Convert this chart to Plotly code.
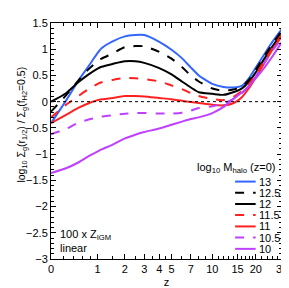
import numpy as np
import plotly.graph_objects as go

# redshift grid
z = [0, 0.25, 0.5, 0.75, 1, 1.12, 1.5, 2, 2.5, 3, 4, 5, 6, 7, 8, 10, 12, 14, 16, 18, 20, 23, 26, 30]

m13   = [-0.41, 0.02, 0.40, 0.68, 0.93, 1.02, 1.15, 1.245, 1.27, 1.27, 1.14, 0.99, 0.83, 0.65, 0.50, 0.34, 0.28, 0.27, 0.30, 0.45, 0.65, 0.92, 1.15, 1.39]
m12_5 = [-0.19, 0.12, 0.40, 0.62, 0.77, 0.82, 0.92, 1.04, 1.06, 1.055, 0.95, 0.82, 0.66, 0.50, 0.385, 0.25, 0.21, 0.23, 0.28, 0.42, 0.61, 0.88, 1.11, 1.36]
m12   = [0.00, 0.16, 0.37, 0.52, 0.63, 0.665, 0.72, 0.77, 0.77, 0.74, 0.64, 0.52, 0.385, 0.27, 0.18, 0.15, 0.13, 0.18, 0.25, 0.38, 0.56, 0.83, 1.06, 1.32]
m11_5 = [-0.30, -0.06, 0.107, 0.24, 0.34, 0.37, 0.415, 0.45, 0.445, 0.43, 0.385, 0.31, 0.24, 0.165, 0.107, 0.05, 0.03, 0.09, 0.20, 0.34, 0.52, 0.79, 1.03, 1.29]
m11   = [-0.41, -0.25, -0.12, -0.03, 0.03, 0.045, 0.07, 0.107, 0.107, 0.10, 0.07, 0.046, 0.017, -0.007, -0.025, -0.06, -0.07, -0.03, 0.08, 0.26, 0.46, 0.75, 1.00, 1.25]
m10_5 = [-0.62, -0.52, -0.40, -0.34, -0.30, -0.285, -0.26, -0.23, -0.22, -0.215, -0.226, -0.226, -0.21, -0.17, -0.12, -0.09, -0.03, 0.05, 0.16, 0.30, 0.48, 0.75, 0.98, 1.20]
m10   = [-1.36, -1.27, -1.16, -1.04, -0.95, -0.91, -0.82, -0.70, -0.63, -0.58, -0.51, -0.44, -0.38, -0.33, -0.30, -0.22, -0.10, 0.05, 0.17, 0.30, 0.45, 0.66, 0.87, 1.14]

series_labels = ["13", "12.5", "12", "11.5", "11", "10.5", "10"]
series_values = [m13, m12_5, m12, m11_5, m11, m10_5, m10]
colors = ["#3366FF", "black", "black", "#FF2020", "#FF2020", "#BF40FF", "#BF40FF"]
dashes = ["solid", "dash", "solid", "dash", "solid", "dash", "solid"]

xtick_z = [0, 1, 2, 3, 4, 5, 7, 10, 15, 20, 30]
xtick_labels = ["0", "1", "2", "3", "4", "5", "7", "10", "15", "20", "30"]
xminor_z = [0.2, 0.4, 0.6, 0.8, 1.5, 2.5, 3.5, 4.5, 6, 8, 9, 11, 12, 13, 14, 16, 17, 18, 19, 22, 24, 26, 28]
ytick_vals = [-3, -2.5, -2, -1.5, -1, -0.5, 0, 0.5, 1, 1.5]
ytick_labels = ["\u22123", "\u22122.5", "\u22122", "\u22121.5", "\u22121", "\u22120.5", "0", "0.5", "1", "1.5"]
yminor_vals = [round(-3 + 0.1 * i, 2) for i in range(46)]

def lx(v):
    return list(np.log10(1 + np.asarray(v, dtype=float)))

FONT = "Liberation Sans"
fig = go.Figure()
for lab, vals, c, d in zip(series_labels, series_values, colors, dashes):
    sm = 0.5 if lab == "13" else 0.7
    fig.add_trace(go.Scatter(x=lx(z), y=vals, mode="lines", name=lab,
                             line=dict(color=c, dash=d, width=2, shape="spline", smoothing=sm),
                             showlegend=False))

# zero reference line
fig.add_shape(type="line", xref="paper", x0=0, x1=1, yref="y", y0=0, y1=0,
              line=dict(color="black", width=1, dash="dot"))

# manual legend
row_y = [0.328, 0.281, 0.233, 0.186, 0.138, 0.091, 0.043]
for lab, c, d, ry in zip(series_labels, colors, dashes, row_y):
    fig.add_shape(type="line", xref="paper", yref="paper", x0=0.797, x1=0.886, y0=ry, y1=ry,
                  line=dict(color=c, dash=d, width=2))
    fig.add_annotation(xref="paper", yref="paper", x=0.892, y=ry, text=lab, showarrow=False,
                       xanchor="left", yanchor="middle", font=dict(size=11, color="black", family=FONT))
fig.add_annotation(xref="paper", yref="paper", x=0.98, y=0.385,
                   text="log<sub>10</sub> M<sub>halo</sub> (z=0)", showarrow=False,
                   xanchor="right", yanchor="middle", font=dict(size=11, color="black", family=FONT))

fig.add_annotation(xref="paper", yref="paper", x=0.03, y=0.10, text="100 x Z<sub>IGM</sub>",
                   showarrow=False, xanchor="left", yanchor="middle", font=dict(size=11, color="black", family=FONT))
fig.add_annotation(xref="paper", yref="paper", x=0.03, y=0.048, text="linear",
                   showarrow=False, xanchor="left", yanchor="middle", font=dict(size=11, color="black", family=FONT))

fig.add_annotation(xref="paper", yref="paper", x=-0.125, y=0.57,
                   text="log<sub>10</sub> \u03a3<sub>g</sub>(r<sub>1/2</sub>) / \u03a3<sub>g</sub>(f<sub>H2</sub>=0.5)",
                   showarrow=False, textangle=-90, xanchor="center", yanchor="middle",
                   font=dict(size=10.5, color="black", family=FONT))

fig.update_xaxes(range=[0, float(np.log10(31))], tickmode="array", tickvals=lx(xtick_z), ticktext=xtick_labels,
                 minor=dict(tickmode="array", tickvals=lx(xminor_z), ticks="inside", ticklen=3, tickcolor="black"),
                 title=dict(text="z", font=dict(size=11, color="black", family=FONT), standoff=4),
                 showline=True, linecolor="black", linewidth=1, mirror="allticks",
                 ticks="inside", ticklen=5, tickcolor="black", showgrid=False, zeroline=False,
                 showticklabels=True, tickfont=dict(size=11, color="black", family=FONT))
fig.update_yaxes(range=[-3, 1.5], tickmode="array", tickvals=ytick_vals, ticktext=ytick_labels,
                 minor=dict(tickmode="array", tickvals=yminor_vals, ticks="inside", ticklen=3, tickcolor="black"),
                 showline=True, linecolor="black", linewidth=1, mirror="allticks",
                 ticks="inside", ticklen=5, tickcolor="black", showgrid=False, zeroline=False,
                 showticklabels=True, tickfont=dict(size=11, color="black", family=FONT))

fig.update_layout(width=289, height=288, margin=dict(l=43, r=9, t=9, b=26),
                  paper_bgcolor="white", plot_bgcolor="white",
                  font=dict(family=FONT, size=11, color="black"), showlegend=False)

fig.write_html("out.html")
